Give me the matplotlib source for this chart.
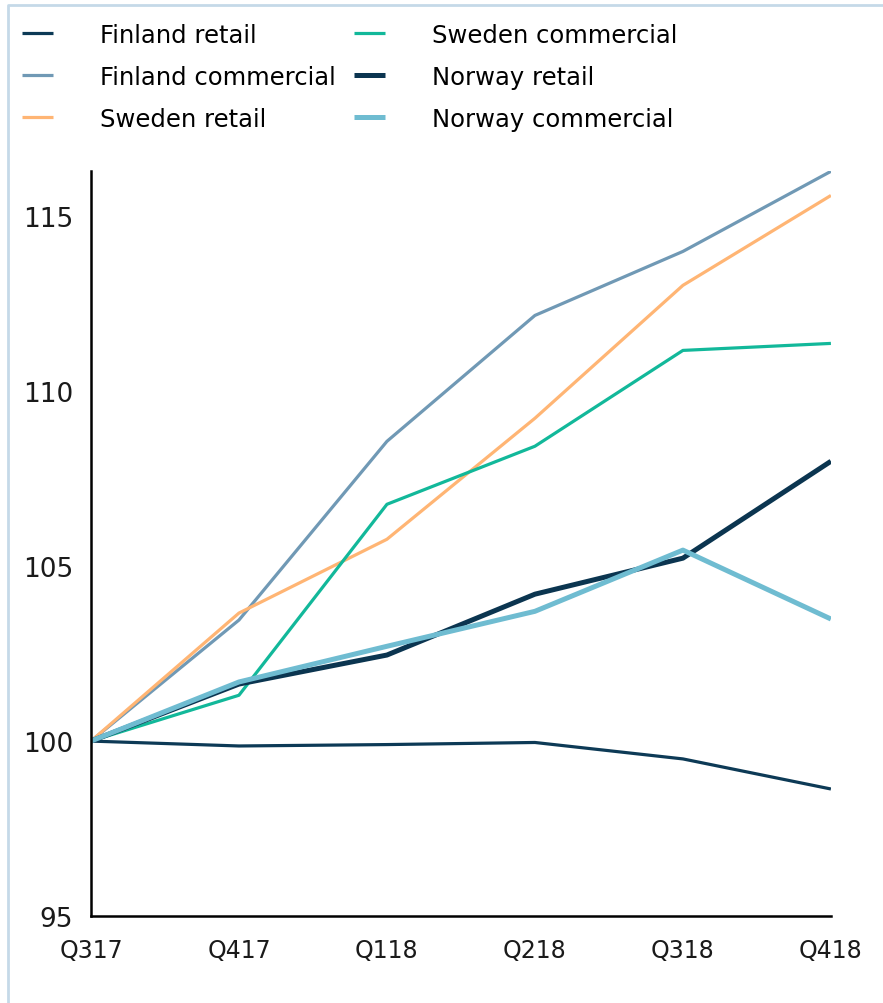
import matplotlib
matplotlib.use("Agg")
import matplotlib.pyplot as plt
from matplotlib.lines import Line2D

quarters = ["Q317", "Q417", "Q118", "Q218", "Q318", "Q418"]
finland_retail = [100, 99.86, 99.9, 99.96, 99.49, 98.63]
finland_commercial = [100, 103.46, 108.57, 112.17, 114.0, 116.29]
sweden_retail = [100, 103.66, 105.77, 109.23, 113.03, 115.6]
sweden_commercial = [100, 101.31, 106.77, 108.43, 111.17, 111.37]
norway_retail = [100, 101.63, 102.46, 104.2, 105.23, 108.0]
norway_commercial = [100, 101.69, 102.71, 103.71, 105.46, 103.49]
y_ticks = [95, 100, 105, 110, 115]

series = [
    ("Finland retail", finland_retail, "#0d3a56", 2.3),
    ("Finland commercial", finland_commercial, "#7099b5", 2.3),
    ("Sweden retail", sweden_retail, "#ffb574", 2.3),
    ("Sweden commercial", sweden_commercial, "#12b89a", 2.3),
    ("Norway retail", norway_retail, "#0b3550", 3.6),
    ("Norway commercial", norway_commercial, "#6fbcd1", 3.6),
]

fig = plt.figure(figsize=(8.83, 10.04), dpi=100)
ax = fig.add_axes([0.103, 0.0867, 0.838, 0.742])

x = list(range(len(quarters)))
for label, values, color, lw in series:
    ax.plot(x, values, color=color, lw=lw, label=label, solid_capstyle="butt")

ax.set_xlim(0, len(quarters) - 1)
ax.set_ylim(95, 116.3)
ax.set_yticks(y_ticks)
ax.set_xticks(x)
ax.set_xticklabels(quarters, fontsize=17)
ax.tick_params(axis="both", length=0, colors="#1a1a1a")
ax.tick_params(axis="y", labelsize=19, pad=13)
ax.tick_params(axis="x", pad=16)

for side in ("top", "right"):
    ax.spines[side].set_visible(False)
for side in ("left", "bottom"):
    ax.spines[side].set_linewidth(1.8)
    ax.spines[side].set_color("black")

# light frame around the chart (left and top edge)
fig.add_artist(Line2D([0.009, 0.009, 1.0], [0.0, 0.994, 0.994],
                      transform=fig.transFigure, color="#c5d9e8", lw=2))

handles, labels = ax.get_legend_handles_labels()
fig.legend(handles, labels, ncol=2, loc="upper left",
           bbox_to_anchor=(22 / 883, 1 - 24 / 1004), frameon=False,
           prop={"size": 17.5}, borderpad=0, borderaxespad=0,
           handlelength=1.28, handletextpad=1.93, columnspacing=0.75,
           labelspacing=0.74)

fig.savefig("out.png", dpi=100)
